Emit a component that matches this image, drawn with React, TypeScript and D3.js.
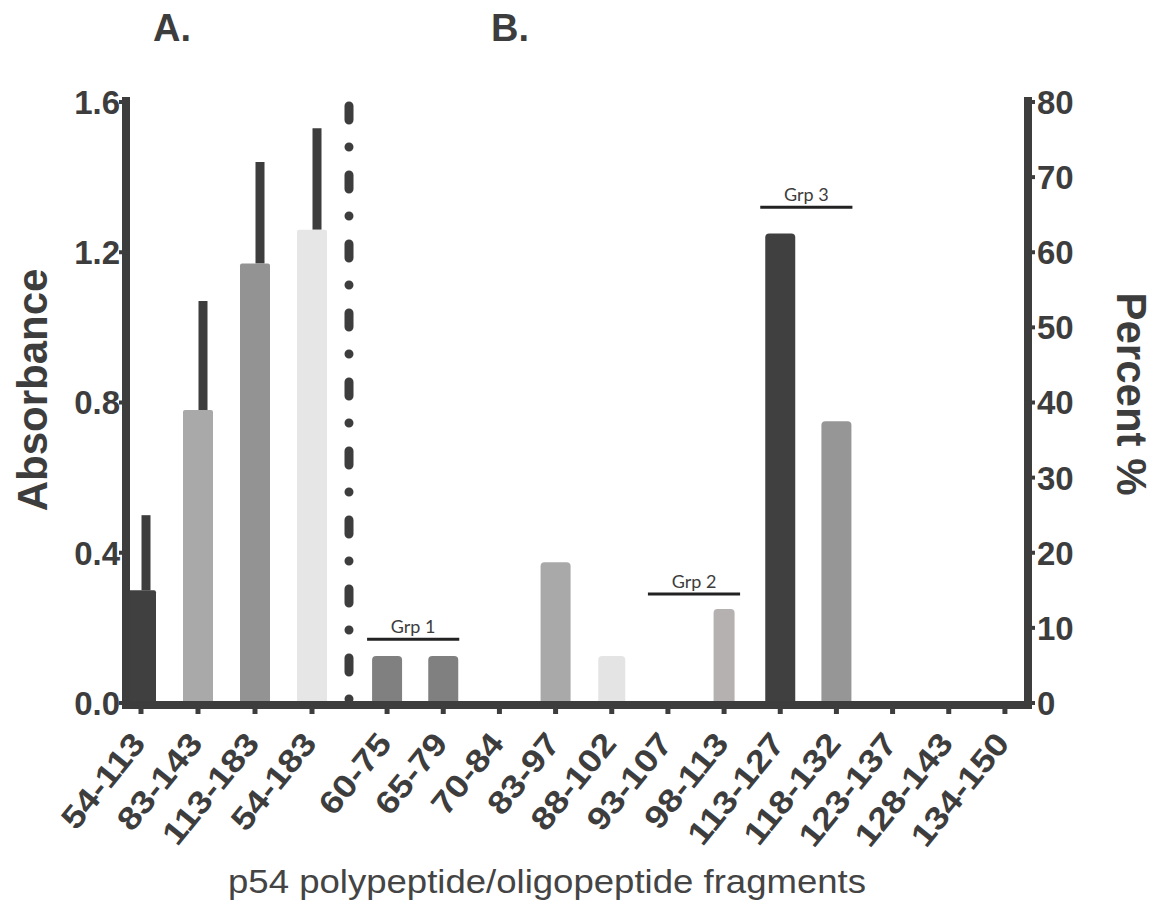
import React from 'react';
import * as d3 from 'd3';

// A. polypeptides (absorbance, mean + upper error)
const polyFragments = ['54-113', '83-143', '113-183', '54-183'];
const polyMeans = [0.30, 0.78, 1.17, 1.26];
const polyErrors = [0.20, 0.29, 0.27, 0.27];

// B. oligopeptides (percent)
const oligoFragments = ['60-75', '65-79', '70-84', '83-97', '88-102', '93-107', '98-113',
  '113-127', '118-132', '123-137', '128-143', '134-150'];
const oligoPercent = [6.25, 6.25, 0, 18.75, 6.25, 0, 12.5, 62.5, 37.5, 0, 0, 0];

const leftTicks = [0, 0.4, 0.8, 1.2, 1.6];
const rightTicks = [0, 10, 20, 30, 40, 50, 60, 70, 80];

const groupLabels = ['Grp 1', 'Grp 2', 'Grp 3'];
const groupFrom = ['60-75', '93-107', '113-127'];
const groupTo = ['65-79', '98-113', '118-132'];
const groupLevel = [8.5, 14.5, 66];

const polyColors = ['#404040', '#a9a9a9', '#939393', '#e6e6e6'];
const oligoColors: Record<string, string> = {
  '60-75': '#808080', '65-79': '#808080', '83-97': '#a9a9a9', '88-102': '#e4e4e4',
  '98-113': '#b5b1b0', '113-127': '#404040', '118-132': '#969696',
};
const oligoWidths: Record<string, number> = { '88-102': 27, '98-113': 21 };

const ink = '#3d3d3d';
const numFont = "'Liberation Sans', Arial, sans-serif";

export default function App() {
  const y0 = 703;
  const yTop = 102;
  const yLeft = d3.scaleLinear().domain([0, 1.6]).range([y0, yTop]);
  const yRight = d3.scaleLinear().domain([0, 80]).range([y0, yTop]);
  const xA = d3.scaleBand<string>().domain(polyFragments).range([112.5, 340.5]);
  const xB = d3.scaleBand<string>().domain(oligoFragments).range([359, 1033]);
  const cA = (d: string) => (xA(d) ?? 0) + xA.bandwidth() / 2;
  const cB = (d: string) => (xB(d) ?? 0) + xB.bandwidth() / 2;

  const axisLeftX = 126;
  const axisRightX = 1028;
  const axisY = 705;

  const allTicks = [
    ...polyFragments.map(d => ({ label: d, x: cA(d) })),
    ...oligoFragments.map(d => ({ label: d, x: cB(d) })),
  ];

  return (
    <svg width={1160} height={907} style={{ position: 'absolute', left: 0, top: 0, background: '#fff' }}>
      {/* panel letters */}
      <text x={153} y={41} fontFamily={numFont} fontWeight="bold" fontSize={38} fill={ink}>A.</text>
      <text x={491} y={41} fontFamily={numFont} fontWeight="bold" fontSize={38} fill={ink}>B.</text>

      {/* error bars (upper only) */}
      {polyFragments.map((d, i) => (
        <line key={'e' + d} x1={cA(d) + 5} x2={cA(d) + 5}
          y1={yLeft(polyMeans[i])} y2={yLeft(polyMeans[i] + polyErrors[i])}
          stroke={ink} strokeWidth={9} />
      ))}

      {/* A bars */}
      {polyFragments.map((d, i) => (
        <rect key={'a' + d} x={cA(d) - 15} width={30}
          y={yLeft(polyMeans[i])} height={y0 - yLeft(polyMeans[i]) + 2}
          fill={polyColors[i]} rx={2} />
      ))}

      {/* B bars */}
      {oligoFragments.map((d, i) => {
        if (oligoPercent[i] <= 0) return null;
        const w = oligoWidths[d] ?? 30;
        return (
          <rect key={'b' + d} x={cB(d) - w / 2} width={w}
            y={yRight(oligoPercent[i])} height={y0 - yRight(oligoPercent[i]) + 2}
            fill={oligoColors[d] ?? '#888'} rx={4} />
        );
      })}

      {/* dash-dot separator */}
      <line x1={349} x2={349} y1={106} y2={700} stroke={ink} strokeWidth={9}
        strokeDasharray="14 27 0 28" strokeLinecap="round" />

      {/* group annotations */}
      {groupLabels.map((g, i) => {
        const x1 = cB(groupFrom[i]) - 20;
        const x2 = cB(groupTo[i]) + 16;
        const y = yRight(groupLevel[i]);
        return (
          <g key={g}>
            <line x1={x1} x2={x2} y1={y} y2={y} stroke="#222" strokeWidth={3} />
            <text x={(x1 + x2) / 2} y={y - 6} textAnchor="middle" fontFamily="Lato, 'Open Sans', sans-serif"
              fontSize={18} fill={ink}>{g}</text>
          </g>
        );
      })}

      {/* axes */}
      <line x1={axisLeftX} x2={axisLeftX} y1={97} y2={axisY + 4} stroke={ink} strokeWidth={8} />
      <line x1={axisRightX} x2={axisRightX} y1={97} y2={axisY + 4} stroke={ink} strokeWidth={8} />
      <line x1={axisLeftX - 4} x2={axisRightX + 4} y1={axisY} y2={axisY} stroke={ink} strokeWidth={8} />

      {leftTicks.map(t => (
        <g key={'l' + t}>
          <line x1={axisLeftX - 7} x2={axisLeftX} y1={yLeft(t)} y2={yLeft(t)} stroke={ink} strokeWidth={4} />
          <text x={120} y={yLeft(t)} dy="0.36em" textAnchor="end" fontFamily={numFont}
            fontWeight="bold" fontSize={33} fill={ink}>{d3.format('.1f')(t)}</text>
        </g>
      ))}
      {rightTicks.map(t => (
        <g key={'r' + t}>
          <line x1={axisRightX} x2={axisRightX + 7} y1={yRight(t)} y2={yRight(t)} stroke={ink} strokeWidth={4} />
          <text x={1037} y={yRight(t)} dy="0.36em" textAnchor="start" fontFamily={numFont}
            fontWeight="bold" fontSize={33} fill={ink}>{t}</text>
        </g>
      ))}

      {allTicks.map(t => (
        <g key={'x' + t.label}>
          <line x1={t.x} x2={t.x} y1={axisY} y2={axisY + 9} stroke={ink} strokeWidth={5} />
          <text transform={`translate(${t.x + 6},${744}) rotate(-51) scale(1.15,1)`} textAnchor="end"
            fontFamily={numFont} fontWeight="bold" fontSize={32} fill={ink}>{t.label}</text>
        </g>
      ))}

      {/* axis titles */}
      <text transform="translate(47,390) rotate(-90)" textAnchor="middle" fontFamily={numFont}
        fontWeight="bold" fontSize={42} fill={ink}>Absorbance</text>
      <text transform="translate(1117,394) rotate(90)" textAnchor="middle" fontFamily={numFont}
        fontWeight="bold" fontSize={42} fill={ink}>Percent %</text>
      <text x={547} y={893} textAnchor="middle" fontFamily={numFont} fontSize={33}
        fill="#444" textLength={638} lengthAdjust="spacingAndGlyphs">p54 polypeptide/oligopeptide fragments</text>
    </svg>
  );
}
